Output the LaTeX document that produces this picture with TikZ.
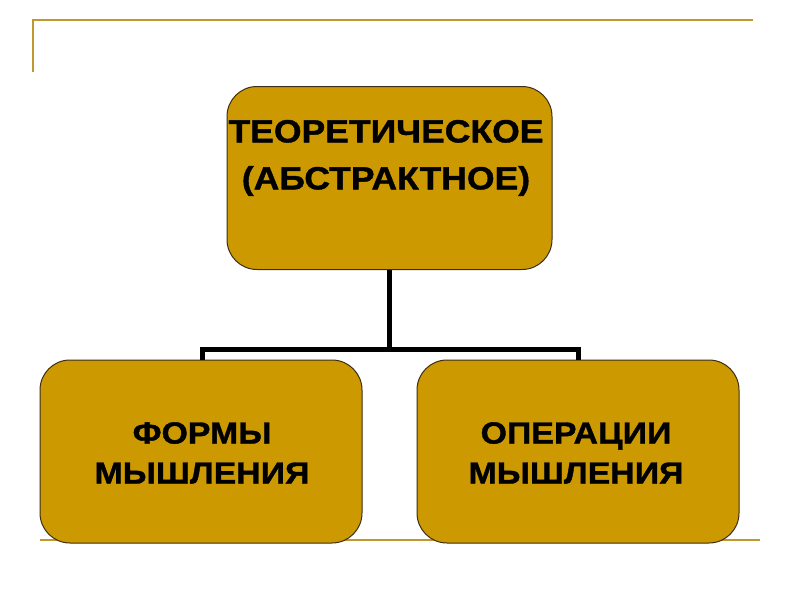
\documentclass[tikz,border=0pt]{standalone}
\usepackage{fontspec}
\setmainfont{Liberation Sans}
\newfontfamily\widefont[FakeStretch=1.11,BoldFeatures={FakeBold=1.2}]{Liberation Sans}
\definecolor{boxgold}{RGB}{204,153,0}
\definecolor{linegold}{RGB}{192,152,48}
\definecolor{boxedge}{RGB}{60,45,20}
\begin{document}
\begin{tikzpicture}[x=1pt,y=-1pt,
  goldbox/.style={draw=boxedge,line width=1pt,fill=boxgold,rounded corners=30pt,
    minimum width=#1,inner sep=0pt},
  toptext/.style={font=\widefont\bfseries\fontsize{32}{47}\selectfont,align=center,inner sep=0pt},
  subtext/.style={font=\widefont\bfseries\fontsize{30.5}{40}\selectfont,align=center,inner sep=0pt},
  conn/.style={line width=5pt,black},
  deco/.style={line width=2.5pt,linegold}]
\useasboundingbox (0,0) rectangle (800,600);
% decorative lines
\coordinate (tl0) at (33,72);
\coordinate (tl1) at (33,20);
\coordinate (tl2) at (753,20);
\draw[deco] (tl0) -- (tl1) -- (tl2);
\coordinate (bl0) at (40,540);
\coordinate (bl1) at (760,540);
\draw[deco] (bl0) -- (bl1);
% boxes
\node[goldbox=325pt,minimum height=183pt] (top) at (389.5,178) {};
\node[goldbox=322pt,minimum height=183pt] (left) at (201,451.5) {};
\node[goldbox=322pt,minimum height=183pt] (right) at (578,451.5) {};
% texts
\node[toptext] (toptxt) at (386,158) {ТЕОРЕТИЧЕСКОЕ\\(АБСТРАКТНОЕ)};
\node[subtext] (lefttxt) at (202,453) {ФОРМЫ\\МЫШЛЕНИЯ};
\node[subtext] (righttxt) at (576,453) {ОПЕРАЦИИ\\МЫШЛЕНИЯ};
% connectors
\coordinate (mid) at (389.5,349);
\draw[conn] (top.south) -- (mid);
\draw[conn] (left.north -| 202,0) |- (mid) -| (right.north -| 578,0);
\end{tikzpicture}
\end{document}
